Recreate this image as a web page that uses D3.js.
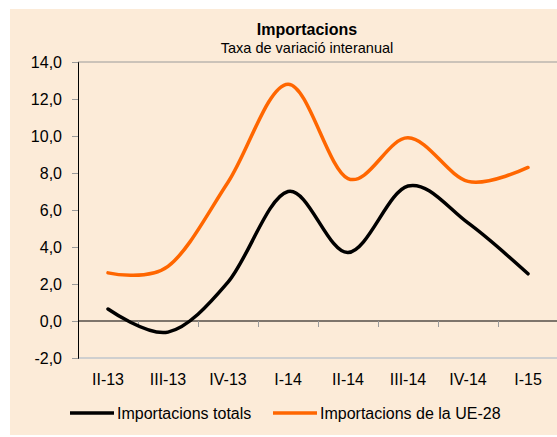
<!DOCTYPE html>
<html>
<head>
<meta charset="utf-8">
<script src="https://cdn.jsdelivr.net/npm/d3@7"></script>
<style>
  body { margin: 0; background: #fff; }
  svg { display: block; font-family: "Liberation Sans", Arial, sans-serif; }
</style>
</head>
<body>
<svg id="chart" width="557" height="437"></svg>
<script>
const categories = ['II-13', 'III-13', 'IV-13', 'I-14', 'II-14', 'III-14', 'IV-14', 'I-15'];
const totals = [0.65, -0.6, 2.1, 7.0, 3.7, 7.3, 5.3, 2.55];
const ue28 = [2.6, 2.95, 7.5, 12.8, 7.7, 9.9, 7.55, 8.3];
const yTicks = [-2, 0, 2, 4, 6, 8, 10, 12, 14];

const width = 557, height = 437;
const margin = { left: 78, right: 0, top: 62, bottom: 79 };

const svg = d3.select('#chart');

svg.append('rect')
    .attr('x', 10).attr('y', 9)
    .attr('width', width - 10).attr('height', 426)
    .attr('fill', '#FCEBD8');

const x = d3.scaleBand()
    .domain(categories)
    .range([margin.left, 558]);

const y = d3.scaleLinear()
    .domain([-2, 14])
    .range([height - margin.bottom, margin.top]);

const fmt = d => d.toFixed(1).replace('.', ',');

// top border and bottom line
svg.append('line')
    .attr('x1', margin.left).attr('x2', width)
    .attr('y1', y(14)).attr('y2', y(14))
    .attr('stroke', '#9a9a9a').attr('stroke-width', 1);
svg.append('line')
    .attr('x1', margin.left).attr('x2', width)
    .attr('y1', y(-2)).attr('y2', y(-2))
    .attr('stroke', '#cfcfcf').attr('stroke-width', 2);

// y axis
const yAxis = svg.append('g')
    .attr('transform', `translate(${margin.left},0)`)
    .call(d3.axisLeft(y).tickValues(yTicks).tickFormat(fmt).tickSize(6).tickPadding(10));
yAxis.select('.domain').attr('stroke', '#000');
yAxis.selectAll('.tick line').attr('stroke', '#9a9a9a');
yAxis.selectAll('text')
    .attr('font-size', 16)
    .attr('fill', '#000')
    .attr('font-family', '"Liberation Sans", Arial, sans-serif');

// zero line with category ticks
svg.append('line')
    .attr('x1', margin.left).attr('x2', width)
    .attr('y1', y(0)).attr('y2', y(0))
    .attr('stroke', '#000').attr('stroke-width', 1.2);
svg.selectAll('.xtick')
    .data(categories.slice(1))
    .enter().append('line')
    .attr('x1', d => x(d) + 0.5).attr('x2', d => x(d) + 0.5)
    .attr('y1', y(0)).attr('y2', y(0) + 6)
    .attr('stroke', '#9a9a9a');

// category labels
const xAxis = svg.append('g')
    .attr('transform', `translate(0,${y(-2)})`)
    .call(d3.axisBottom(x).tickSize(0).tickPadding(16));
xAxis.select('.domain').remove();
xAxis.selectAll('text')
    .attr('font-size', 16)
    .attr('fill', '#000')
    .attr('font-family', '"Liberation Sans", Arial, sans-serif');

// lines
const line = d3.line()
    .x((d, i) => x(categories[i]) + x.bandwidth() / 2)
    .y(d => y(d))
    .curve(d3.curveCardinal.tension(0));

svg.append('path')
    .datum(ue28)
    .attr('d', line)
    .attr('fill', 'none')
    .attr('stroke', '#FF6600')
    .attr('stroke-width', 3.5)
    .attr('stroke-linecap', 'round');

svg.append('path')
    .datum(totals)
    .attr('d', line)
    .attr('fill', 'none')
    .attr('stroke', '#000')
    .attr('stroke-width', 3.5)
    .attr('stroke-linecap', 'round');

// title
svg.append('text')
    .attr('x', 307).attr('y', 35)
    .attr('text-anchor', 'middle')
    .attr('font-size', 16)
    .attr('font-weight', 'bold')
    .text('Importacions');
svg.append('text')
    .attr('x', 307).attr('y', 53)
    .attr('text-anchor', 'middle')
    .attr('font-size', 14.5)
    .text('Taxa de variació interanual');

// legend
const legend = [
    { name: 'Importacions totals', color: '#000', x: 70 },
    { name: 'Importacions de la UE-28', color: '#FF6600', x: 273 }
];
const lg = svg.selectAll('.legend')
    .data(legend)
    .enter().append('g')
    .attr('transform', d => `translate(${d.x},413)`);
lg.append('line')
    .attr('x1', 0).attr('x2', 44)
    .attr('stroke', d => d.color)
    .attr('stroke-width', 3.5);
lg.append('text')
    .attr('x', 47).attr('y', 5.5)
    .attr('font-size', 16)
    .text(d => d.name);
</script>
</body>
</html>
